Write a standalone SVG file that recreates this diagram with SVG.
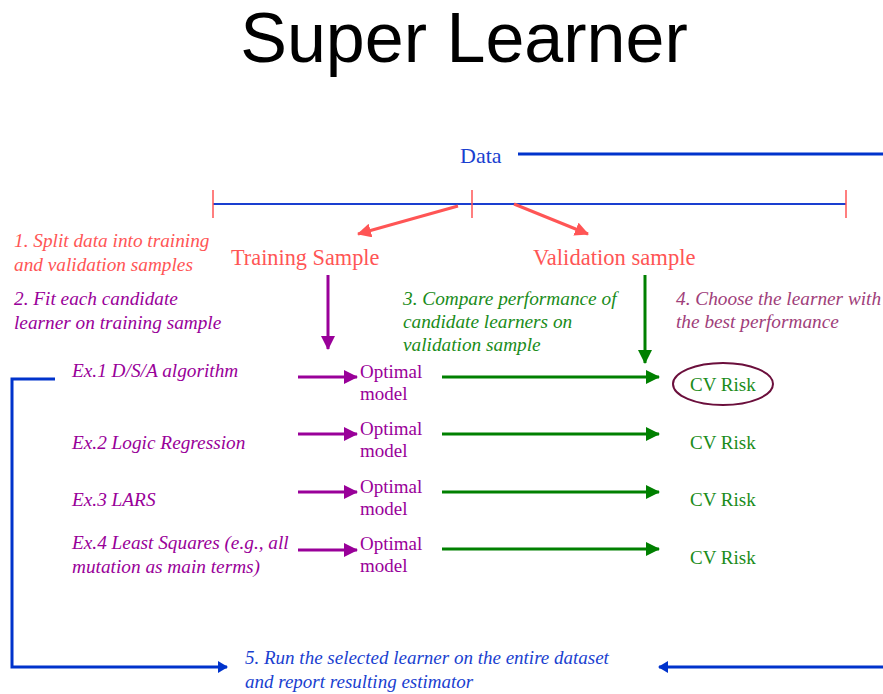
<svg xmlns="http://www.w3.org/2000/svg" width="883" height="694" viewBox="0 0 883 694">
<style>
.serif{font-family:"Liberation Serif","Times New Roman",serif}
.it{font-style:italic;font-size:19.3px}
.red{fill:#ff5555}
.pur{fill:#990099}
.grn{fill:#1a8c1a}
.mar{fill:#a0407a}
.blu{fill:#1a3fd0}
.opt{font-size:19px;fill:#990099}
.cv{font-size:19px;fill:#1a8c1a}
.pa{stroke:#990099;stroke-width:3;fill:none}
.ga{stroke:#008000;stroke-width:3;fill:none}
.ra{stroke:#ff5555;stroke-width:3;fill:none}
.ba{stroke:#0033cc;stroke-width:3;fill:none}
</style>
<defs>
<marker id="mg" markerWidth="14" markerHeight="14" refX="13" refY="7" orient="auto" markerUnits="userSpaceOnUse" viewBox="0 0 14 14"><path d="M0,0 L14,7 L0,14 Z" fill="#008000"/></marker>
<marker id="mr" markerWidth="14" markerHeight="14" refX="13" refY="7" orient="auto" markerUnits="userSpaceOnUse" viewBox="0 0 14 14"><path d="M0,0 L14,7 L0,14 Z" fill="#ff5555"/></marker>
<marker id="mb" markerWidth="10" markerHeight="12" refX="9" refY="6" orient="auto" markerUnits="userSpaceOnUse" viewBox="0 0 10 12"><path d="M0,0 L10,6 L0,12 Z" fill="#0033cc"/></marker>
<marker id="mpp" markerWidth="14" markerHeight="14" refX="13" refY="7" orient="auto" markerUnits="userSpaceOnUse" viewBox="0 0 14 14"><path d="M0,0 L14,7 L0,14 Z" fill="#990099"/></marker>
</defs>
<rect width="883" height="694" fill="#ffffff"/>
<text x="464" y="62" text-anchor="middle" font-family="Liberation Sans, Arial, sans-serif" font-size="70" fill="#000">Super Learner</text>

<g id="data">
<text x="460" y="163" class="serif blu" font-size="22">Data</text>
</g>
<g id="timeline">
<line x1="213" y1="204" x2="846" y2="204" stroke="#1a3fd0" stroke-width="2"/>
<line x1="213" y1="190" x2="213" y2="218" stroke="#ff5555" stroke-width="1.5"/>
<line x1="472" y1="190" x2="472" y2="218" stroke="#ff5555" stroke-width="1.5"/>
<line x1="846" y1="190" x2="846" y2="218" stroke="#ff5555" stroke-width="1.5"/>
</g>
<g id="training">
<text x="231" y="265" class="serif red" font-size="22.3">Training Sample</text>
</g>
<g id="validation">
<text x="533" y="265" class="serif red" font-size="22.6">Validation sample</text>
</g>
<g id="step1">
<text class="serif it red" x="14" y="247">1. Split data into training</text>
<text class="serif it red" x="14" y="271">and validation samples</text>
</g>
<g id="step2">
<text class="serif it pur" x="14" y="305">2. Fit each candidate</text>
<text class="serif it pur" x="14" y="329">learner on training sample</text>
</g>
<g id="step3">
<text class="serif it grn" x="403" y="305">3. Compare performance of</text>
<text class="serif it grn" x="403" y="328">candidate learners on</text>
<text class="serif it grn" x="403" y="351">validation sample</text>
</g>
<g id="step4">
<text class="serif it mar" x="676" y="305">4. Choose the learner with</text>
<text class="serif it mar" x="676" y="328">the best performance</text>
</g>

<g id="ex1"><text class="serif it pur" x="72" y="377">Ex.1 D/S/A algorithm</text></g>
<g id="ex2"><text class="serif it pur" x="72" y="449">Ex.2 Logic Regression</text></g>
<g id="ex3"><text class="serif it pur" x="72" y="506">Ex.3 LARS</text></g>
<g id="ex4"><text class="serif it pur" x="72" y="549">Ex.4 Least Squares (e.g., all</text><text class="serif it pur" x="72" y="573">mutation as main terms)</text></g>

<g id="opt1"><text class="serif opt" x="360" y="378">Optimal</text><text class="serif opt" x="360" y="400">model</text></g>
<g id="opt2"><text class="serif opt" x="360" y="435">Optimal</text><text class="serif opt" x="360" y="457">model</text></g>
<g id="opt3"><text class="serif opt" x="360" y="493">Optimal</text><text class="serif opt" x="360" y="515">model</text></g>
<g id="opt4"><text class="serif opt" x="360" y="550">Optimal</text><text class="serif opt" x="360" y="572">model</text></g>

<g id="cv1"><ellipse cx="723" cy="384" rx="50" ry="21" fill="none" stroke="#6b0f3c" stroke-width="2"/><text class="serif cv" x="690" y="391">CV Risk</text></g>
<g id="cv2"><text class="serif cv" x="690" y="449">CV Risk</text></g>
<g id="cv3"><text class="serif cv" x="690" y="506">CV Risk</text></g>
<g id="cv4"><text class="serif cv" x="690" y="564">CV Risk</text></g>

<g id="step5">
<text class="serif it blu" x="245" y="664" style="font-size:19px">5. Run the selected learner on the entire dataset</text>
<text class="serif it blu" x="245" y="688" style="font-size:19px">and report resulting estimator</text>
</g>

<g id="connectors">
<line class="ba" x1="518" y1="154" x2="883" y2="154"/>
<line class="ra" x1="458" y1="206" x2="358" y2="234" marker-end="url(#mr)"/>
<line class="ra" x1="514" y1="204" x2="588" y2="234" marker-end="url(#mr)"/>
<line class="pa" x1="328" y1="275" x2="328" y2="349" marker-end="url(#mpp)"/>
<line class="ga" x1="645" y1="275" x2="645" y2="363" marker-end="url(#mg)"/>
<line class="pa" x1="298" y1="377" x2="357" y2="377" marker-end="url(#mpp)"/>
<line class="pa" x1="298" y1="434" x2="357" y2="434" marker-end="url(#mpp)"/>
<line class="pa" x1="298" y1="492" x2="357" y2="492" marker-end="url(#mpp)"/>
<line class="pa" x1="298" y1="550" x2="357" y2="550" marker-end="url(#mpp)"/>
<line class="ga" x1="442" y1="377" x2="659" y2="377" marker-end="url(#mg)"/>
<line class="ga" x1="442" y1="434" x2="659" y2="434" marker-end="url(#mg)"/>
<line class="ga" x1="442" y1="492" x2="659" y2="492" marker-end="url(#mg)"/>
<line class="ga" x1="442" y1="549" x2="659" y2="549" marker-end="url(#mg)"/>
<polyline class="ba" points="55,379 12,379 12,667 227,667" marker-end="url(#mb)"/>
<line class="ba" x1="883" y1="667" x2="659" y2="667" marker-end="url(#mb)"/>
</g>
</svg>
